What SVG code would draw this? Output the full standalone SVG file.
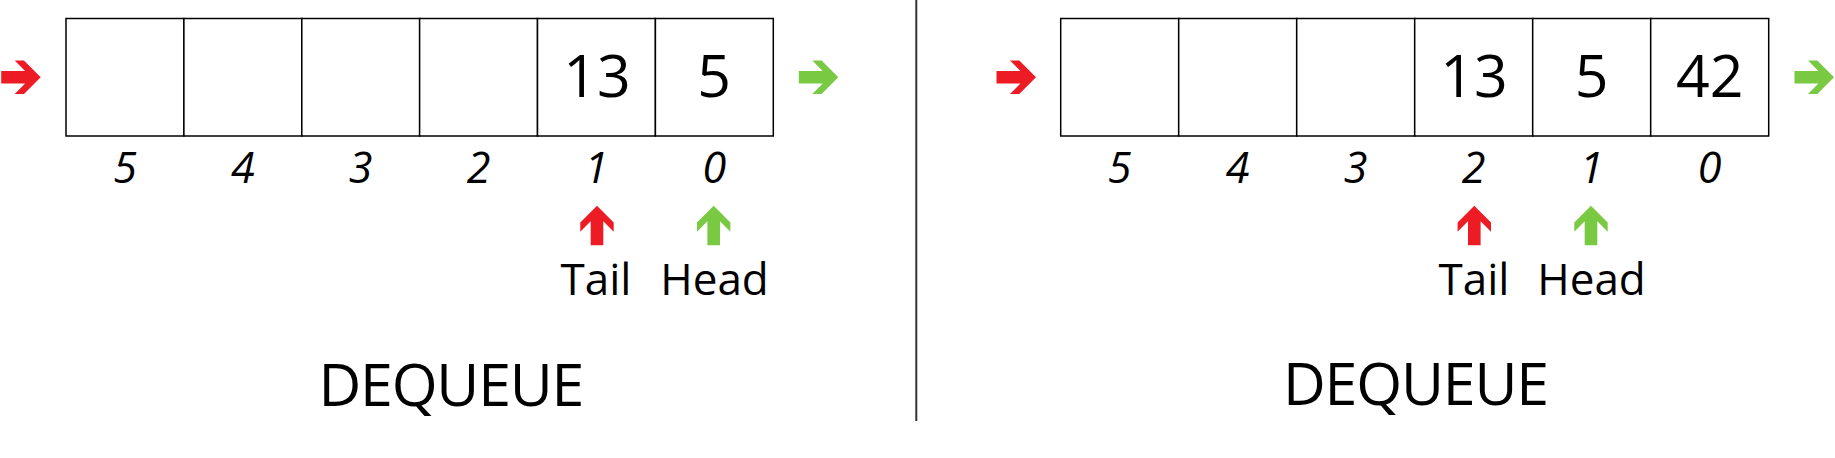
<svg xmlns="http://www.w3.org/2000/svg" xmlns:xlink="http://www.w3.org/1999/xlink" width="1835" height="458" viewBox="0 0 1835 458">
<style>
.cell{fill:#fff;stroke:#000;stroke-width:1.5}
.val{font-family:"Open Sans","Noto Sans",sans-serif;font-size:59px;text-anchor:middle;fill:#000}
.idx{font-family:"Open Sans","Noto Sans",sans-serif;font-size:43px;font-style:italic;text-anchor:middle;fill:#000}
.lbl{font-family:"Open Sans","Noto Sans",sans-serif;font-size:44px;text-anchor:middle;fill:#000}
.title{font-family:"Open Sans","Noto Sans",sans-serif;font-size:59px;text-anchor:middle;fill:#000}
.red{fill:#ED1C24}
.green{fill:#7AC943}
</style>
<defs>
<path id="arrowUp" d="M0,0 L16.7,16.7 L16.7,26 L6.3,15.6 L6.3,39.5 L-6.3,39.5 L-6.3,15.6 L-16.7,26 L-16.7,16.7 Z"/>
</defs>
<g id="divider"><line x1="916.3" y1="0" x2="916.3" y2="421" stroke="#333" stroke-width="2"/></g>

<g id="left-array">
<rect class="cell" x="66" y="18.5" width="117.9" height="117.5"/>
<rect class="cell" x="183.9" y="18.5" width="117.9" height="117.5"/>
<rect class="cell" x="301.8" y="18.5" width="117.9" height="117.5"/>
<rect class="cell" x="419.6" y="18.5" width="117.9" height="117.5"/>
<rect class="cell" x="537.5" y="18.5" width="117.9" height="117.5"/>
<rect class="cell" x="655.4" y="18.5" width="117.9" height="117.5"/>
<text class="val" x="597" y="97">13</text>
<text class="val" x="714" y="97">5</text>
<text class="idx" x="125" y="182.7">5</text>
<text class="idx" x="242.8" y="182.7">4</text>
<text class="idx" x="360.7" y="182.7">3</text>
<text class="idx" x="478.5" y="182.7">2</text>
<text class="idx" x="596.4" y="182.7">1</text>
<text class="idx" x="714.3" y="182.7">0</text>
</g>
<g id="left-pointers">
<use href="#arrowUp" xlink:href="#arrowUp" class="red" x="597" y="205.7"/>
<use href="#arrowUp" xlink:href="#arrowUp" class="green" x="713.7" y="205.7"/>
<text class="lbl" x="596" y="295">Tail</text>
<text class="lbl" x="714.5" y="295">Head</text>
</g>
<g id="left-title"><text class="title" x="451.4" y="406" textLength="266">DEQUEUE</text></g>

<g id="right-array">
<rect class="cell" x="1060.7" y="18.5" width="118" height="117.5"/>
<rect class="cell" x="1178.7" y="18.5" width="118" height="117.5"/>
<rect class="cell" x="1296.7" y="18.5" width="118" height="117.5"/>
<rect class="cell" x="1414.7" y="18.5" width="118" height="117.5"/>
<rect class="cell" x="1532.7" y="18.5" width="118" height="117.5"/>
<rect class="cell" x="1650.7" y="18.5" width="118" height="117.5"/>
<text class="val" x="1474" y="97">13</text>
<text class="val" x="1591.7" y="97">5</text>
<text class="val" x="1709.7" y="97">42</text>
<text class="idx" x="1119.7" y="182.7">5</text>
<text class="idx" x="1237.7" y="182.7">4</text>
<text class="idx" x="1355.7" y="182.7">3</text>
<text class="idx" x="1473.7" y="182.7">2</text>
<text class="idx" x="1591.7" y="182.7">1</text>
<text class="idx" x="1709.7" y="182.7">0</text>
</g>
<g id="right-pointers">
<use href="#arrowUp" xlink:href="#arrowUp" class="red" x="1474.3" y="205.7"/>
<use href="#arrowUp" xlink:href="#arrowUp" class="green" x="1591" y="205.7"/>
<text class="lbl" x="1474" y="295">Tail</text>
<text class="lbl" x="1591.5" y="295">Head</text>
</g>
<g id="right-title"><text class="title" x="1416" y="405" textLength="266">DEQUEUE</text></g>

<g id="connectors">
<use href="#arrowUp" xlink:href="#arrowUp" class="red" transform="translate(40.7,77.3) rotate(90)"/>
<use href="#arrowUp" xlink:href="#arrowUp" class="green" transform="translate(838.3,77.3) rotate(90)"/>
<use href="#arrowUp" xlink:href="#arrowUp" class="red" transform="translate(1036,77.3) rotate(90)"/>
<use href="#arrowUp" xlink:href="#arrowUp" class="green" transform="translate(1834,77.3) rotate(90)"/>
</g>
</svg>
